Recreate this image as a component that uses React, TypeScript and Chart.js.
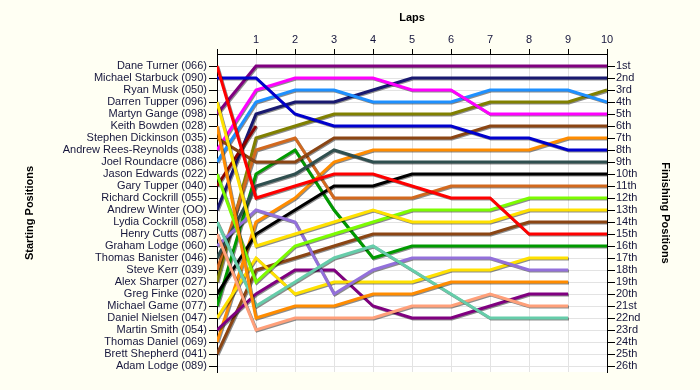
import React, { useEffect, useRef } from 'react';
import { Chart, registerables } from 'chart.js';

Chart.register(...registerables);

const laps = [0, 1, 2, 3, 4, 5, 6, 7, 8, 9, 10];

const startingNames = [
  'Dane Turner (066)', 'Michael Starbuck (090)', 'Ryan Musk (050)', 'Darren Tupper (096)',
  'Martyn Gange (098)', 'Keith Bowden (028)', 'Stephen Dickinson (035)', 'Andrew Rees-Reynolds (038)',
  'Joel Roundacre (086)', 'Jason Edwards (022)', 'Gary Tupper (040)', 'Richard Cockrill (055)',
  'Andrew Winter (OO)', 'Lydia Cockrill (058)', 'Henry Cutts (087)', 'Graham Lodge (060)',
  'Thomas Banister (046)', 'Steve Kerr (039)', 'Alex Sharper (027)', 'Greg Finke (020)',
  'Michael Game (077)', 'Daniel Nielsen (047)', 'Martin Smith (054)', 'Thomas Daniel (069)',
  'Brett Shepherd (041)', 'Adam Lodge (089)',
];

const finishingLabels = [
  '1st', '2nd', '3rd', '4th', '5th', '6th', '7th', '8th', '9th', '10th', '11th', '12th', '13th',
  '14th', '15th', '16th', '17th', '18th', '19th', '20th', '21st', '22nd', '23rd', '24th', '25th', '26th',
];

const lineColors = [
  '#FF0000', '#0000CD', '#999999', '#FFE100', '#800080', '#FF8C00', '#8B4513', '#FF00FF',
  '#1E90FF', '#7CFC00', '#8B0000', '#777777', '#191970', '#66CDAA', '#FFA07A', '#9370DB',
  '#2F4F4F', '#D2691E', '#808000', '#000000', '#009A00', '#FFE100', '#800080', '#FF8C00',
  '#8B4513', '#555555',
];

// positions per lap (lap 0 = grid), one row per driver in starting order
const lapPositions: number[][] = [
  [1, 12, 11, 10, 10, 11, 12, 12, 15, 15, 15],
  [2, 2, 5, 6, 6, 6, 6, 7, 7, 8, 8],
  [3],
  [4, 16, 15, 14, 13, 14, 14, 14, 13, 13, 13],
  [5, 1, 1, 1, 1, 1, 1, 1, 1, 1, 1],
  [6, 22, 21, 21, 20, 20, 19, 19, 19, 19],
  [7, 9, 9, 7, 7, 7, 7, 6, 6, 6, 6],
  [8, 3, 2, 2, 2, 3, 3, 5, 5, 5, 5],
  [9, 4, 3, 3, 4, 4, 4, 3, 3, 3, 4],
  [10, 19, 16, 15, 14, 13, 13, 13, 12, 12, 12],
  [11, 6],
  [12],
  [13, 5, 4, 4, 3, 2, 2, 2, 2, 2, 2],
  [14, 21, 19, 17, 16, 18, 20, 22, 22, 22],
  [15, 23, 22, 22, 22, 21, 21, 20, 21, 21],
  [16, 13, 14, 20, 18, 17, 17, 17, 18, 18],
  [17, 11, 10, 8, 9, 9, 9, 9, 9, 9, 9],
  [18, 8, 7, 12, 12, 12, 11, 11, 11, 11, 11],
  [19, 7, 6, 5, 5, 5, 5, 4, 4, 4, 3],
  [20, 15, 13, 11, 11, 10, 10, 10, 10, 10, 10],
  [21, 10, 8, 13, 17, 16, 16, 16, 16, 16, 16],
  [22, 17, 20, 19, 19, 19, 18, 18, 17, 17],
  [23, 20, 18, 18, 21, 22, 22, 21, 20, 20],
  [24, 14, 12, 9, 8, 8, 8, 8, 8, 7, 7],
  [25, 18, 17, 16, 15, 15, 15, 15, 14, 14, 14],
  [26],
];

const OUTER_BG = '#FFFFF3';
const TEXT_COLOR = '#16163C';
const GRID_COLOR = '#E3E3E3';
const FONT_FAMILY = '"Liberation Sans", Arial, sans-serif';

const bgPlugin = {
  id: 'lapBg',
  beforeDraw(chart: any) {
    const { ctx, chartArea } = chart;
    ctx.save();
    ctx.fillStyle = OUTER_BG;
    ctx.fillRect(0, 0, chart.width, chart.height);
    ctx.fillStyle = '#FFFFFF';
    ctx.fillRect(chartArea.left, chartArea.top, chartArea.right - chartArea.left, chartArea.bottom - chartArea.top);
    ctx.restore();
  },
  beforeDatasetsDraw(chart: any) {
    const ctx = chart.ctx;
    ctx.save();
    ctx.shadowColor = 'rgba(0,0,0,0.45)';
    ctx.shadowOffsetX = 1;
    ctx.shadowOffsetY = 1;
    ctx.shadowBlur = 0;
  },
  afterDatasetsDraw(chart: any) {
    chart.ctx.restore();
  },
};

export default function App() {
  const canvasRef = useRef<HTMLCanvasElement | null>(null);

  useEffect(() => {
    if (!canvasRef.current) return;
    const tickFont = { family: FONT_FAMILY, size: 11 };
    const titleFont = { family: FONT_FAMILY, size: 11, weight: 'bold' as const };
    const positionTicks = startingNames.map((_, i) => ({ value: i + 1 }));

    const datasets = lapPositions.map((row, i) => ({
      label: startingNames[i],
      data: row.map((p, lap) => ({ x: laps[lap], y: p })),
      borderColor: lineColors[i],
      backgroundColor: lineColors[i],
      borderWidth: 3,
      pointRadius: 0,
      tension: 0,
      fill: false,
      yAxisID: 'y',
    }));

    const chart = new Chart(canvasRef.current, {
      type: 'line',
      data: { datasets },
      plugins: [bgPlugin],
      options: {
        animation: false,
        responsive: false,
        maintainAspectRatio: false,
        layout: { padding: { left: 0, right: 0, top: 0, bottom: 18 } },
        plugins: { legend: { display: false }, tooltip: { enabled: false } },
        scales: {
          x: {
            type: 'linear',
            position: 'top',
            min: 0,
            max: 10,
            afterBuildTicks: (s: any) => { s.ticks = laps.map((v) => ({ value: v })); },
            afterFit: (s: any) => { s.height = 54; },
            ticks: {
              autoSkip: false,
              maxRotation: 0,
              padding: 2,
              color: TEXT_COLOR,
              font: tickFont,
              callback: (v: any) => (v === 0 ? '' : String(v)),
            },
            grid: { color: GRID_COLOR, lineWidth: 1, tickLength: 5, tickColor: '#000000' },
            border: { color: '#000000', width: 1 },
            title: { display: true, text: 'Laps', color: '#000000', font: titleFont, padding: { top: 11, bottom: 0 } },
          },
          y: {
            type: 'linear',
            position: 'left',
            reverse: true,
            min: 0,
            max: 26.5,
            afterBuildTicks: (s: any) => { s.ticks = positionTicks.map((t) => ({ ...t })); },
            afterFit: (s: any) => { s.width = 217; },
            ticks: {
              autoSkip: false,
              padding: 2,
              color: TEXT_COLOR,
              font: tickFont,
              callback: (v: any) => startingNames[v - 1] ?? '',
            },
            grid: { color: GRID_COLOR, lineWidth: 1, tickLength: 8, tickColor: '#000000' },
            border: { color: '#000000', width: 1 },
            title: { display: true, text: 'Starting Positions', color: '#000000', font: titleFont, padding: { top: 23, bottom: 0 } },
          },
          y2: {
            type: 'linear',
            position: 'right',
            reverse: true,
            min: 0,
            max: 26.5,
            afterBuildTicks: (s: any) => { s.ticks = positionTicks.map((t) => ({ ...t })); },
            afterFit: (s: any) => { s.width = 93; },
            ticks: {
              autoSkip: false,
              padding: 1,
              color: TEXT_COLOR,
              font: tickFont,
              callback: (v: any) => finishingLabels[v - 1] ?? '',
            },
            grid: { drawOnChartArea: false, tickLength: 8, tickColor: '#000000' },
            border: { color: '#000000', width: 1 },
            title: { display: true, text: 'Finishing Positions', color: '#000000', font: titleFont, padding: { top: 28, bottom: 0 } },
          },
        },
      } as any,
    });
    return () => chart.destroy();
  }, []);

  return (
    <div style={{ position: 'fixed', left: 0, top: 0, width: 700, height: 390, background: OUTER_BG }}>
      <canvas ref={canvasRef} width={700} height={390} style={{ width: 700, height: 390, display: 'block' }} />
    </div>
  );
}
